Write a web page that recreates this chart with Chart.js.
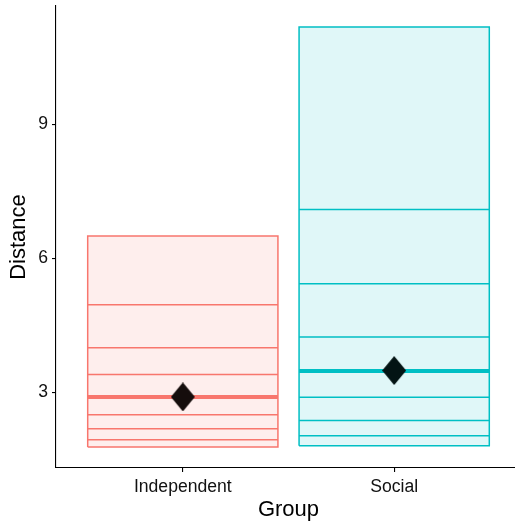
<!DOCTYPE html>
<html>
<head>
<meta charset="utf-8">
<script src="https://cdn.jsdelivr.net/npm/chart.js@4/dist/chart.umd.min.js"></script>
<style>
  html, body { margin: 0; padding: 0; background: #fff; overflow: hidden; }
  #wrap { width: 521px; height: 522px; }
</style>
</head>
<body>
<div id="wrap"><canvas id="boxChart"></canvas></div>
<script>
// groups and the values
var groups = ['Independent', 'Social'];
var independentLevels = [1.78, 1.94, 2.19, 2.50, 2.90, 3.40, 4.00, 4.96, 6.50];
var socialLevels = [1.81, 2.03, 2.37, 2.89, 3.48, 4.24, 5.43, 7.09, 11.17];
var medians = [2.90, 3.48];
var means = [2.90, 3.49];
var yTicks = [3, 6, 9];

var colors = ['#F8766D', '#00BFC4'];
var fills = ['rgba(248,118,109,0.12)', 'rgba(0,191,196,0.12)'];
var halfWidth = 0.45;

var makeDiamond = function (color) {
    var c = document.createElement('canvas');
    c.width = 24; c.height = 29;
    var ctx = c.getContext('2d');
    ctx.fillStyle = color;
    ctx.beginPath();
    ctx.moveTo(12, 0); ctx.lineTo(24, 14.5); ctx.lineTo(12, 29); ctx.lineTo(0, 14.5);
    ctx.closePath();
    ctx.fill();
    return c;
};

var datasets = [];
[independentLevels, socialLevels].forEach(function (levels, i) {
    var cx = i + 1;
    var lo = levels[0], hi = levels[levels.length - 1];
    // outer box
    datasets.push({
        data: [
            { x: cx - halfWidth, y: lo }, { x: cx + halfWidth, y: lo },
            { x: cx + halfWidth, y: hi }, { x: cx - halfWidth, y: hi },
            { x: cx - halfWidth, y: lo }
        ],
        borderColor: colors[i],
        backgroundColor: fills[i],
        borderWidth: 1.5,
        fill: 'shape',
        pointRadius: 0,
        tension: 0,
        order: 3
    });
    // inner level lines
    var lines = [];
    for (var k = 1; k < levels.length - 1; k++) {
        lines.push({ x: cx - halfWidth, y: levels[k] });
        lines.push({ x: cx + halfWidth, y: levels[k] });
        lines.push({ x: cx, y: null });
    }
    datasets.push({
        data: lines,
        borderColor: colors[i],
        borderWidth: 1.5,
        fill: false,
        spanGaps: false,
        pointRadius: 0,
        order: 2
    });
    // median
    datasets.push({
        data: [{ x: cx - halfWidth, y: medians[i] }, { x: cx + halfWidth, y: medians[i] }],
        borderColor: colors[i],
        borderWidth: 4,
        fill: false,
        pointRadius: 0,
        order: 1
    });
});

datasets.push({
    data: means.map(function (m, i) { return { x: i + 1, y: m }; }),
    showLine: false,
    pointStyle: [makeDiamond('#150d0c'), makeDiamond('#031414')],
    pointRadius: 12,
    order: 0
});

var tickFont = { family: 'Liberation Sans, Arial, sans-serif', size: 17.6 };
var titleFont = { family: 'Liberation Sans, Arial, sans-serif', size: 22, lineHeight: 1 };

new Chart(document.getElementById('boxChart'), {
    type: 'line',
    data: { datasets: datasets },
    options: {
        responsive: true,
        maintainAspectRatio: false,
        animation: false,
        layout: { autoPadding: false, padding: { top: 6, right: 0, left: 0, bottom: 0 } },
        plugins: { legend: { display: false }, tooltip: { enabled: false } },
        scales: {
            x: {
                type: 'linear',
                min: 0.4,
                max: 2.6,
                afterBuildTicks: function (scale) {
                    scale.ticks = groups.map(function (g, i) { return { value: i + 1 }; });
                },
                afterFit: function (scale) {
                    scale.height = 54;
                    scale.paddingLeft = 0;
                    scale.paddingRight = 0;
                },
                ticks: {
                    color: '#111',
                    font: tickFont,
                    padding: 5,
                    autoSkip: false,
                    maxRotation: 0,
                    callback: function (value) { return groups[value - 1]; }
                },
                grid: { drawOnChartArea: false, tickLength: 4, color: '#000', lineWidth: 1.1 },
                border: { display: true, color: '#000', width: 1.1 },
                title: { display: true, text: 'Group', color: '#000', font: titleFont, padding: { top: 0, bottom: 1 } }
            },
            y: {
                type: 'linear',
                min: 1.31,
                max: 11.64,
                afterBuildTicks: function (scale) {
                    scale.ticks = yTicks.map(function (v) { return { value: v }; });
                },
                afterFit: function (scale) {
                    scale.width = 56;
                    scale.paddingTop = 0;
                    scale.paddingBottom = 0;
                },
                ticks: { color: '#111', font: tickFont, padding: 4 },
                grid: { drawOnChartArea: false, tickLength: 4, color: '#000', lineWidth: 1.1 },
                border: { display: true, color: '#000', width: 1.1 },
                title: { display: true, text: 'Distance', color: '#000', font: titleFont, padding: { top: 8, bottom: 0 } }
            }
        }
    }
});
</script>
</body>
</html>
